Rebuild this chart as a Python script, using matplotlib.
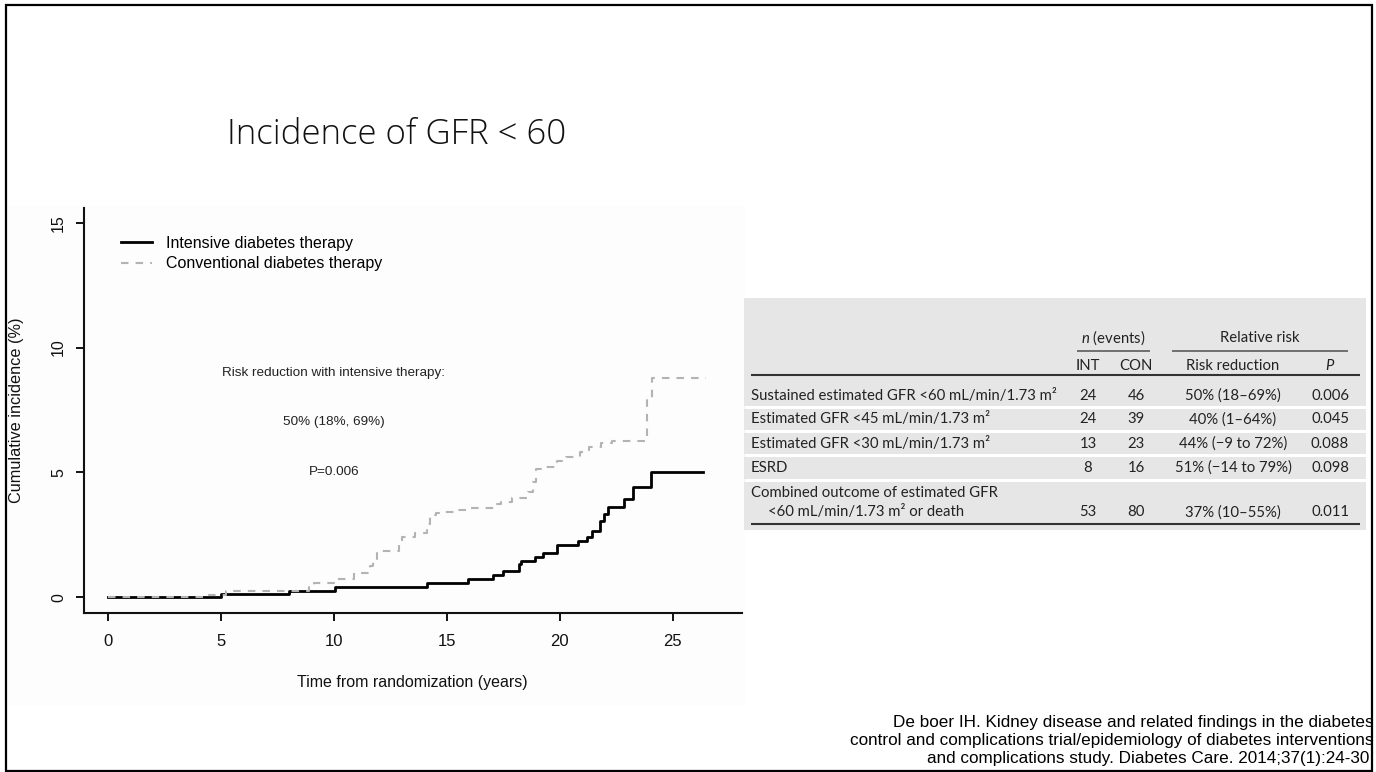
import matplotlib
matplotlib.use('Agg')
import matplotlib.pyplot as plt
from matplotlib.patches import Rectangle

plt.rcParams['font.family'] = ['Liberation Sans', 'DejaVu Sans']
plt.rcParams['mathtext.fontset'] = 'custom'
plt.rcParams['mathtext.rm'] = 'Lato'
plt.rcParams['mathtext.it'] = 'Lato:italic'

# ---------------- data ----------------
title = "Incidence of GFR < 60"
series_labels = ["Intensive diabetes therapy", "Conventional diabetes therapy"]

int_times = [0, 5.0, 8.0, 10.05, 14.1, 15.95, 17.05, 17.5, 18.2, 18.3, 18.9, 19.25,
             19.9, 20.8, 21.2, 21.45, 21.8, 21.95, 22.15, 22.85, 23.25, 24.05]
int_values = [0, 0.13, 0.26, 0.42, 0.58, 0.72, 0.88, 1.04, 1.32, 1.47, 1.63, 1.79,
              2.1, 2.24, 2.43, 2.64, 3.05, 3.33, 3.6, 3.95, 4.42, 5.02]
int_end = 26.35

con_times = [0, 4.2, 5.2, 8.9, 9.1, 10.1, 10.9, 11.6, 11.75, 11.9, 12.9, 13.0, 13.6,
             14.1, 14.25, 14.5, 14.9, 15.4, 15.9, 17.2, 17.4, 17.9, 18.6, 18.8, 18.95,
             19.3, 19.9, 20.3, 20.9, 21.3, 21.85, 22.3, 23.85, 24.1]
con_values = [0, 0.1, 0.25, 0.4, 0.56, 0.72, 0.97, 1.25, 1.55, 1.85, 2.1, 2.42, 2.56,
              2.95, 3.3, 3.38, 3.43, 3.5, 3.57, 3.72, 3.83, 3.97, 4.2, 4.6, 5.12,
              5.22, 5.45, 5.6, 5.8, 6.03, 6.16, 6.26, 7.95, 8.78]
con_end = 26.5

x_ticks = [0, 5, 10, 15, 20, 25]
y_ticks = [0, 5, 10, 15]
x_label = "Time from randomization (years)"
y_label = "Cumulative incidence (%)"
annotations = ["Risk reduction with intensive therapy:", "50% (18%, 69%)", "P=0.006"]
annotation_x = 10
annotation_y = [9, 7, 5]

table_group_headers = ["$n$ (events)", "Relative risk"]
table_col_headers = ["INT", "CON", "Risk reduction", "$P$"]
table_rows = ["Sustained estimated GFR <60 mL/min/1.73 m²",
              "Estimated GFR <45 mL/min/1.73 m²",
              "Estimated GFR <30 mL/min/1.73 m²",
              "ESRD",
              "Combined outcome of estimated GFR\n<60 mL/min/1.73 m² or death"]
int_events = [24, 24, 13, 8, 53]
con_events = [46, 39, 23, 16, 80]
risk_reduction = ["50% (18–69%)", "40% (1–64%)", "44% (−9 to 72%)",
                  "51% (−14 to 79%)", "37% (10–55%)"]
p_values = ["0.006", "0.045", "0.088", "0.098", "0.011"]

citation = ["De boer IH. Kidney disease and related findings in the diabetes",
            "control and complications trial/epidemiology of diabetes interventions",
            "and complications study. Diabetes Care. 2014;37(1):24-30."]

# ---------------- layout ----------------
W, H, DPI = 1376, 772, 100
fig = plt.figure(figsize=(W / DPI, H / DPI), dpi=DPI)
fig.patch.set_facecolor('white')
renderer = fig.canvas.get_renderer()


def fit_size(text, target_px, base=10, **kw):
    t = fig.text(0, 0, text, fontsize=base, **kw)
    w = t.get_window_extent(renderer=renderer).width
    t.remove()
    return base * target_px / w


ov = fig.add_axes([0, 0, 1, 1], zorder=0)
ov.set_xlim(0, W)
ov.set_ylim(H, 0)
ov.axis('off')

# very faint background of the inserted chart picture
ov.add_patch(Rectangle((8, 205), 737, 500, facecolor='#fdfdfd', edgecolor='none'))

# title
title_fam = ['Open Sans', 'DejaVu Sans']
ts = fit_size(title, 338, family=title_fam, fontweight='light')
ov.text(397, 135, title, fontsize=ts, family=title_fam, fontweight='light',
        ha='center', va='center', color='#111111')

# ---------------- chart ----------------
ax = fig.add_axes([84 / W, (H - 613) / H, (741.6 - 84) / W, (613 - 208) / H], zorder=1)
ax.set_facecolor('none')
ax.step(int_times + [int_end], int_values + [int_values[-1]], where='post',
        color='black', lw=2.0, label=series_labels[0], zorder=2)
ax.step(con_times + [con_end], con_values + [con_values[-1]], where='post',
        color='#b3b3b3', lw=1.5, dashes=(3.6, 3.4), label=series_labels[1], zorder=3)
ax.set_xlim(-1.077, 28.06)
ax.set_ylim(-0.63, 15.59)
ax.set_xticks(x_ticks)
ax.set_yticks(y_ticks)
ax.set_xticklabels([str(v) for v in x_ticks])
ax.set_yticklabels([str(v) for v in y_ticks])
for s in ['top', 'right']:
    ax.spines[s].set_visible(False)
for s in ['left', 'bottom']:
    ax.spines[s].set_linewidth(1.5)
    ax.spines[s].set_color('#111111')
ax.tick_params(axis='both', direction='out', length=6, width=1.4, colors='#111111')
ax.tick_params(axis='x', labelsize=12, pad=9)
ax.tick_params(axis='y', labelsize=11.5, pad=7)
for lbl in ax.get_yticklabels():
    lbl.set_rotation(90)
    lbl.set_va('center')

ax.set_xlabel(x_label, fontsize=11.5, color='#111111')
ax.xaxis.set_label_coords(0.5, (613 - 682) / 405)
ax.xaxis.label.set_va('center')
ax.set_ylabel(y_label, fontsize=11.7, color='#111111')
ax.yaxis.set_label_coords((16.7 - 84) / 657.6, 0.5)
ax.yaxis.label.set_va('center')

for txt, yv in zip(annotations, annotation_y):
    ax.text(annotation_x, yv, txt, fontsize=9.7, ha='center', va='center', color='#222222')

inv = ax.transAxes.inverted()
lx, ly = inv.transform((121, H - 236))
ax.legend(loc='upper left', bbox_to_anchor=(lx, ly), frameon=False, fontsize=11.5,
          handlelength=1.95, handletextpad=0.85, labelspacing=0.33,
          borderpad=0, borderaxespad=0)

# ---------------- table ----------------
tfam = ['Lato', 'DejaVu Sans']
tcol = '#222222'
tsz = fit_size(table_rows[0], 306, family=tfam)
ov.add_patch(Rectangle((744, 298), 622, 232, facecolor='#e6e6e6', edgecolor='none'))
ov.hlines([407, 430.7, 455, 479.6], 744, 1366, colors='white', lw=2.2)
ov.hlines(375.2, 751, 1360, colors='#333333', lw=1.5)
ov.hlines(524.2, 751, 1360, colors='#333333', lw=1.5)
ov.hlines(350.7, 1077, 1150, colors='#666666', lw=1.3)
ov.hlines(350.7, 1172, 1348, colors='#666666', lw=1.3)

for txt, xc in zip(table_group_headers, [1113.5, 1260]):
    ov.text(xc, 338, txt, fontsize=tsz, family=tfam, ha='center', va='center', color=tcol)
for txt, xc in zip(table_col_headers, [1088, 1136, 1233, 1330]):
    ov.text(xc, 366, txt, fontsize=tsz, family=tfam, ha='center', va='center', color=tcol)

row_y = [395.6, 419.4, 444, 468, 512.3]
for i, lab in enumerate(table_rows):
    parts = lab.split('\n')
    if len(parts) == 1:
        ov.text(751, row_y[i], parts[0], fontsize=tsz, family=tfam, ha='left', va='center', color=tcol)
    else:
        ov.text(751, 492.6, parts[0], fontsize=tsz, family=tfam, ha='left', va='center', color=tcol)
        ov.text(768, row_y[i], parts[1], fontsize=tsz, family=tfam, ha='left', va='center', color=tcol)
    ov.text(1088, row_y[i], str(int_events[i]), fontsize=tsz, family=tfam, ha='center', va='center', color=tcol)
    ov.text(1136, row_y[i], str(con_events[i]), fontsize=tsz, family=tfam, ha='center', va='center', color=tcol)
    ov.text(1233, row_y[i], risk_reduction[i], fontsize=tsz, family=tfam, ha='center', va='center', color=tcol)
    ov.text(1330, row_y[i], p_values[i], fontsize=tsz, family=tfam, ha='center', va='center', color=tcol)

# ---------------- citation ----------------
csz = fit_size(citation[1], 524)
for txt, yc in zip(citation, [722, 740, 758]):
    ov.text(1374, yc, txt, fontsize=csz, ha='right', va='center', color='black')

# slide frame
ov.add_patch(Rectangle((6, 5), 1366, 766, fill=False, edgecolor='black', lw=1.6,
                       zorder=10, clip_on=False))

fig.savefig('out.png', dpi=DPI, facecolor='white')
